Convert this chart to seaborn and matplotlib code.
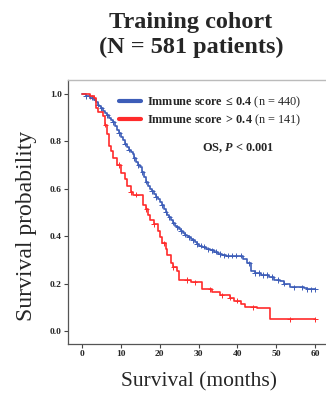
import numpy as np
import pandas as pd
import matplotlib
matplotlib.use('Agg')
import matplotlib.pyplot as plt
import seaborn as sns

# Kaplan-Meier steps (months, survival)
low_t = [0, 1, 2, 3, 3.5, 4, 4.5, 5, 5.5, 6, 6.5, 7, 7.5, 8, 8.5, 9, 9.5, 10,
         10.5, 11, 11.5, 12, 12.5, 13, 13.5, 14, 14.5, 15, 15.5, 16, 16.5, 17,
         17.5, 18, 18.5, 19, 19.5, 20, 20.5, 21, 21.5, 22, 22.5, 23, 23.5, 24,
         24.5, 25, 25.5, 26, 26.5, 27, 27.5, 28, 28.5, 29, 29.5, 30, 31, 32, 33,
         34, 35, 36, 37, 41.5, 42.5, 43.5, 44.5, 46, 48, 49.5, 51, 52, 53.5, 57,
         58, 60]
low_s = [1.0, 0.99, 0.985, 0.975, 0.965, 0.955, 0.948, 0.94, 0.93, 0.92, 0.91,
         0.90, 0.89, 0.88, 0.865, 0.85, 0.835, 0.82, 0.805, 0.79, 0.778, 0.765,
         0.755, 0.745, 0.73, 0.715, 0.70, 0.69, 0.67, 0.65, 0.63, 0.61, 0.60,
         0.59, 0.578, 0.565, 0.555, 0.545, 0.53, 0.515, 0.50, 0.49, 0.48, 0.47,
         0.457, 0.445, 0.437, 0.43, 0.422, 0.415, 0.407, 0.40, 0.395, 0.39,
         0.382, 0.375, 0.367, 0.36, 0.355, 0.345, 0.34, 0.335, 0.325, 0.32,
         0.318, 0.305, 0.285, 0.255, 0.245, 0.236, 0.228, 0.215, 0.21, 0.20,
         0.185, 0.182, 0.175, 0.175]
high_t = [0, 2, 3, 3.5, 4, 5.5, 6, 6.5, 7, 7.5, 8, 9, 10, 11, 11.5, 12.5, 13,
          15.8, 16.5, 17, 17.5, 18.5, 19.5, 20, 20.7, 21.5, 22, 23, 23.5, 24.5,
          25, 28, 31, 33.5, 35.5, 38, 39, 41, 42, 45, 48.5, 60]
high_s = [1.0, 0.99, 0.985, 0.94, 0.925, 0.905, 0.87, 0.83, 0.78, 0.76, 0.73,
          0.70, 0.665, 0.64, 0.61, 0.585, 0.575, 0.53, 0.515, 0.49, 0.47, 0.45,
          0.42, 0.395, 0.37, 0.345, 0.32, 0.285, 0.27, 0.255, 0.215, 0.205,
          0.175, 0.165, 0.15, 0.14, 0.128, 0.113, 0.10, 0.095, 0.05, 0.05]

# censored patients (months)
low_cens = [1, 2.5, 4, 5, 6.5, 8, 9.5, 11, 12, 13.5, 14.5, 15.5, 16.5, 18, 19,
            20.5, 21.5, 22.5, 23.5, 24.5, 25.5, 26.5, 27.5, 28.5, 29.5, 30.5,
            31.5, 32.5, 33.5, 34.5, 35.5, 36.5, 37.5, 38.5, 39.5, 41, 43, 44.5,
            45.5, 46.5, 47.5, 49, 50.5, 52, 54.5, 56.5, 58, 59, 60]
high_cens = [2, 3, 6, 9.5, 12.5, 14, 16.5, 18.5, 21, 23.5, 27, 29, 33, 36, 38,
             40, 44, 53.5, 60]

labels = [r'$\mathbf{Immune\ score\:\leq\:0.4}$ (n = 440)',
          r'$\mathbf{Immune\ score\:>\:0.4}$ (n = 141)']
colors = ['#3d5db8', '#ff2b2b']

sns.set_style('ticks')
plt.rcParams['font.family'] = ['Liberation Serif', 'DejaVu Serif']
plt.rcParams['mathtext.fontset'] = 'custom'
plt.rcParams['mathtext.rm'] = 'Liberation Serif'
plt.rcParams['mathtext.bf'] = 'Liberation Serif:bold'
plt.rcParams['mathtext.it'] = 'Liberation Serif:italic'
plt.rcParams['mathtext.bfit'] = 'Liberation Serif:bold:italic'

curves = pd.concat([
    pd.DataFrame({'t': low_t, 's': low_s, 'group': labels[0]}),
    pd.DataFrame({'t': high_t, 's': high_s, 'group': labels[1]}),
])


def at(times, surv, cens):
    idx = np.searchsorted(times, cens, side='right') - 1
    return np.asarray(surv)[idx]


marks = pd.concat([
    pd.DataFrame({'t': low_cens, 's': at(low_t, low_s, low_cens), 'group': labels[0]}),
    pd.DataFrame({'t': high_cens, 's': at(high_t, high_s, high_cens), 'group': labels[1]}),
])

fig = plt.figure(figsize=(3.26, 4.0), dpi=100)
ax = fig.add_axes([68 / 326, 56 / 400, 260 / 326, 264 / 400])

sns.lineplot(data=curves, x='t', y='s', hue='group', palette=colors,
             drawstyle='steps-post', estimator=None, linewidth=1.2, ax=ax)
sns.scatterplot(data=marks, x='t', y='s', hue='group', palette=colors,
                marker='+', s=14, linewidth=0.7, legend=False, ax=ax)

ax.set_xlim(-3.6, 63.3)
ax.set_ylim(-0.055, 1.059)
ax.set_xticks([0, 10, 20, 30, 40, 50, 60])
ax.set_yticks([0.0, 0.2, 0.4, 0.6, 0.8, 1.0])
ax.set_yticklabels(['0.0', '0.2', '0.4', '0.6', '0.8', '1.0'])
ax.tick_params(labelsize=6.8, length=3, width=0.8, color='#444444', pad=1.5)
for lab in ax.get_xticklabels() + ax.get_yticklabels():
    lab.set_fontweight('bold')
ax.set_xlabel('')
ax.set_ylabel('')
for side in ['left', 'bottom']:
    ax.spines[side].set_color('#555555')
    ax.spines[side].set_linewidth(0.9)
ax.spines['top'].set_color('#bbbbbb')
ax.spines['top'].set_linewidth(1.0)
ax.spines['right'].set_visible(False)

handles, _ = ax.get_legend_handles_labels()
leg = ax.legend(handles=handles, labels=labels, loc='upper left',
                bbox_to_anchor=(0.155, 0.985), frameon=False, fontsize=8.8,
                handlelength=1.8, handletextpad=0.45, labelspacing=0.15)
for h in leg.get_lines():
    h.set_linewidth(3)

ax.text(0.652, 0.74, r'OS, $\mathbfit{P}$ < 0.001', transform=ax.transAxes,
        ha='center', va='center', fontsize=8.8, fontweight='bold')

fig.text(191 / 326, 1 - 35 / 400, 'Training cohort\n(N = 581 patients)',
         ha='center', va='center', fontsize=17.5, fontweight='bold', linespacing=1.25)
fig.text(27 / 326, 1 - 226 / 400, 'Survival probability', rotation=90,
         ha='center', va='center', fontsize=17)
fig.text(199 / 326, 1 - 382 / 400, 'Survival (months)', ha='center',
         va='center', fontsize=15.5)

fig.savefig('out.png', dpi=100)
